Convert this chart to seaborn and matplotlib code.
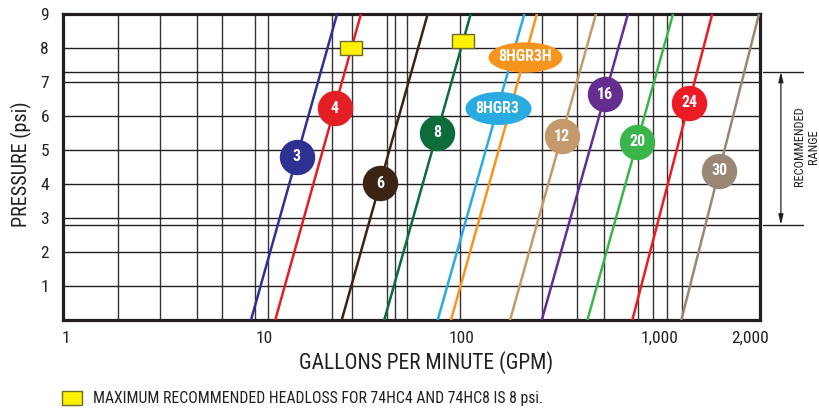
import numpy as np
import pandas as pd
import matplotlib
matplotlib.use("Agg")
import matplotlib.pyplot as plt
import matplotlib.transforms as mtransforms
import seaborn as sns
from matplotlib import font_manager
from matplotlib.patches import Rectangle

# Model names and their straight lines (log GPM vs psi), read at 0 psi and 9 psi
MODELS       = ["3", "4", "6", "8", "8HGR3", "8HGR3H", "12", "16", "20", "24", "30"]
GPM_AT_0_PSI = [8.6, 11.4, 24.7, 40.5, 75.4, 88.0, 175, 253, 430, 725, 1282]
GPM_AT_9_PSI = [23.4, 30.9, 67.1, 110.7, 206.5, 239, 475, 689, 1164, 1836, 3163]
LINE_COLORS  = ["#2E3192", "#E31E24", "#3C2415", "#0E6B3A", "#29ABE2", "#F7941D",
                "#C49A6C", "#662D91", "#39B54A", "#ED1C24", "#998675"]
LABEL_PSI    = [4.80, 6.23, 4.02, 5.51, 6.23, 7.74, 5.41, 6.64, 5.24, 6.39, 4.39]

# yellow markers: max recommended headloss
HEADLOSS_MODELS = ["4", "8"]
HEADLOSS_PSI    = [8.0, 8.2]

PSI_TICKS       = [1, 2, 3, 4, 5, 6, 7, 8, 9]
GPM_TICKS       = [1, 10, 100, 1000, 2850]
GPM_TICK_LABELS = ["1", "10", "100", "1,000", "2,000"]
RANGE_PSI       = (2.8, 7.3)

# the printed chart uses an irregular grid
GRID_GPM = [1.83, 2.98, 4.59, 6.13, 9.0, 10.5, 22, 27.8, 41.8, 45.9, 52.7, 97.8,
            253, 381, 521, 774, 922, 1084, 1290]
GRID_PSI = [1, 2, 2.8, 3, 4, 5, 6, 7, 7.3, 8]

ELLIPSES = {"8HGR3": (0.50, 2260), "8HGR3H": (0.41, 2840)}   # aspect, marker area

sns.set_theme(style="white")
names = {f.name for f in font_manager.fontManager.ttflist}
COND = next((n for n in ["Liberation Sans Narrow", "Roboto Condensed",
                         "DejaVu Sans Condensed"] if n in names), "Liberation Sans")
plt.rcParams["font.family"] = [COND, "DejaVu Sans"]
INK = "#231F20"


def gpm_at(i, psi):
    lo, hi = np.log10(GPM_AT_0_PSI[i]), np.log10(GPM_AT_9_PSI[i])
    return 10 ** (lo + psi / 9 * (hi - lo))


df = pd.DataFrame({
    "model": np.repeat(MODELS, 2),
    "gpm": np.ravel(list(zip(GPM_AT_0_PSI, GPM_AT_9_PSI))),
    "psi": [0, 9] * len(MODELS),
})

fig = plt.figure(figsize=(8.2, 4.13), dpi=100)
ax = fig.add_axes([63 / 820, 1 - 320 / 413, 697 / 820, 306 / 413])
ax.set_xscale("log")
ax.set_xlim(0.966, 3200)
ax.set_ylim(0, 9)

for g in GRID_GPM:
    ax.axvline(g, color="#333333", lw=1.0, zorder=1)
for p in GRID_PSI:
    ax.axhline(p, color=INK, lw=1.0, zorder=1)

sns.lineplot(data=df, x="gpm", y="psi", hue="model", hue_order=MODELS,
             palette=dict(zip(MODELS, LINE_COLORS)), legend=False,
             linewidth=1.8, ax=ax, zorder=3)

# badges on each line
for i, m in enumerate(MODELS):
    x, y = gpm_at(i, LABEL_PSI[i]), LABEL_PSI[i]
    if m in ELLIPSES:
        aspect, area = ELLIPSES[m]
        t = np.linspace(0, 2 * np.pi, 80)
        verts = np.column_stack([np.cos(t), aspect * np.sin(t)])
        ax.scatter([x], [y], s=area, marker=verts, color=LINE_COLORS[i],
                   linewidths=0, zorder=4, clip_on=False)
    else:
        ax.scatter([x], [y], s=650, marker="o", color=LINE_COLORS[i],
                   linewidths=0, zorder=4)
    ax.text(x, y, m, ha="center", va="center", color="white",
            fontsize=11.5, fontweight="bold", zorder=5)

for m, p in zip(HEADLOSS_MODELS, HEADLOSS_PSI):
    i = MODELS.index(m)
    ax.scatter([gpm_at(i, p)], [p], s=243,
               marker=[(-1.5, -1), (1.5, -1), (1.5, 1), (-1.5, 1), (-1.5, -1)],
               color="#FFF200", edgecolors="#6B6B2E", linewidths=1.0, zorder=5)

ax.set_xticks(GPM_TICKS, GPM_TICK_LABELS)
ax.xaxis.set_minor_locator(matplotlib.ticker.NullLocator())
ax.set_yticks(PSI_TICKS)
ax.tick_params(axis="both", length=0, labelsize=12.5, colors=INK)
ax.tick_params(axis="x", pad=8)
ax.tick_params(axis="y", pad=10)
for s in ax.spines.values():
    s.set_color(INK)
    s.set_linewidth(2.3)

ax.set_xlabel("GALLONS PER MINUTE (GPM)", fontsize=15.5, color=INK)
ax.xaxis.set_label_coords((426 - 63) / 697, -0.1)
ax.xaxis.label.set_va("top")
ax.set_ylabel("PRESSURE (psi)", fontsize=14.5, color=INK)
ax.yaxis.set_label_coords(-0.045, (320 - 164) / 306)

# recommended range bracket on the right
trans = mtransforms.blended_transform_factory(ax.transAxes, ax.transData)
for p in RANGE_PSI:
    ax.plot([1.004, 1.062], [p, p], transform=trans, clip_on=False, color=INK, lw=1.0)
ax.annotate("", xy=(1.030, RANGE_PSI[1]), xytext=(1.030, RANGE_PSI[0]),
            xycoords=trans, textcoords=trans,
            arrowprops=dict(arrowstyle="<|-|>,head_length=0.5,head_width=0.12",
                            color=INK, lw=0.9, shrinkA=0, shrinkB=0))
ax.text(1.066, 5.1, "RECOMMENDED\nRANGE", transform=trans, rotation=90,
        ha="center", va="center", multialignment="center",
        fontsize=8.8, linespacing=1.1, color=INK)

# footer note
fig.patches.append(Rectangle((62 / 820, 1 - 405 / 413), 20 / 820, 14 / 413,
                             transform=fig.transFigure, facecolor="#FFF200",
                             edgecolor="#6B6B2E", lw=1.0))
fig.text(93 / 820, 1 - 398 / 413,
         "MAXIMUM RECOMMENDED HEADLOSS FOR 74HC4 AND 74HC8 IS 8 psi.",
         va="center", fontsize=11.3, color=INK)

fig.savefig("out.png", dpi=100)
